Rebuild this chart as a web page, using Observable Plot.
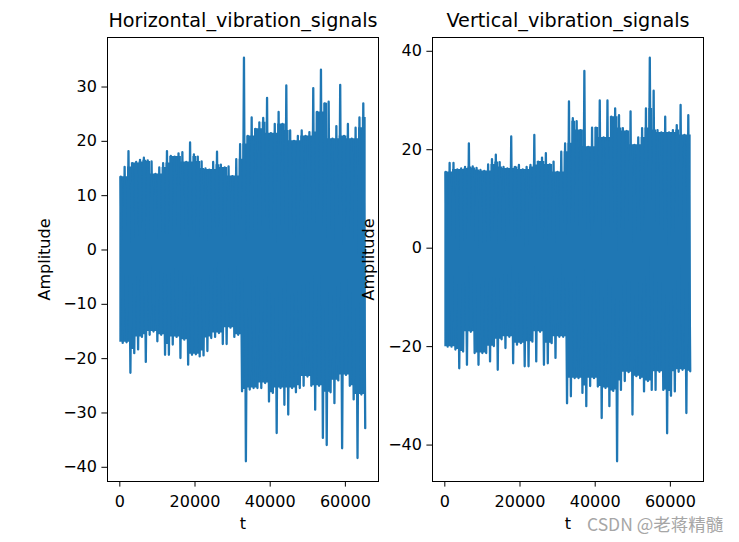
<!DOCTYPE html>
<html>
<head>
<meta charset="utf-8">
<script src="https://cdn.jsdelivr.net/npm/d3@7"></script>
<script src="https://cdn.jsdelivr.net/npm/@observablehq/plot@0.6"></script>
<style>
  body { margin: 0; background: #fff; }
  #wrap { position: relative; width: 739px; height: 542px; overflow: hidden; font-family: "DejaVu Sans", sans-serif; }
  #wrap svg { position: absolute; left: 0; top: 0; }
  #wm { position: absolute; left: 587px; top: 511px; font-family: "Noto Sans CJK SC", "DejaVu Sans", sans-serif; font-size: 17.5px; color: #a6a6a6; white-space: nowrap; }
</style>
</head>
<body>
<div id="wrap"></div>
<script>
// Each bin spans 1024 samples of the 65536-sample signal; values = per-bin max / min
const binSize = 1024;
const titles = ["Horizontal_vibration_signals", "Vertical_vibration_signals"];
const yLabel = "Amplitude";
const xLabel = "t";
const watermark = "CSDN @老蒋精髓";

const hUpper = [13.5, 15.3, 18.2, 16, 16.2, 16.6, 17, 16.5, 16.3, 14, 15.2, 16, 18.2, 17.3, 17.2, 17.8,
  18, 16.2, 19.8, 17.6, 17.2, 16.3, 15, 14.8, 16.2, 18.1, 15.7, 15.2, 15.4, 13.6, 16.7, 19.5,
  35.4, 21, 24.4, 22.3, 23.5, 24.3, 28, 21.5, 23.2, 25.4, 23.2, 30.3, 22, 20.1, 21, 22,
  21, 21.7, 29.8, 25.4, 33.2, 27, 27.3, 20.5, 22.8, 30.4, 21, 23.2, 20.5, 22.5, 24.4, 27];
const hLower = [-17.1, -17, -22.6, -19, -18.3, -16, -20.6, -15.6, -15, -16.8, -15.6, -19.3, -19.3, -17.4, -16, -19.9,
  -16.5, -21.1, -19.3, -19.2, -19.6, -19.4, -18.6, -16.2, -16, -15.3, -17.3, -17.3, -14.3, -16, -15.6, -26,
  -38.9, -25.7, -25.4, -25.4, -25.4, -24.5, -27.9, -26.3, -33.7, -25.4, -28.5, -30.3, -25.4, -26.2, -25.4, -25,
  -23.3, -25, -29.4, -25, -34.6, -35.9, -26.2, -28.2, -24, -36.5, -23, -25, -27.5, -38.3, -26.6, -32.8];
const vUpper = [15.5, 17.3, 17.3, 16, 16.2, 16.5, 21.3, 16.6, 16.3, 15.9, 15.7, 17, 18.1, 19, 17.5, 16.5,
  16.2, 22.7, 16.5, 16.9, 16, 16.5, 16.9, 23, 17.6, 18.4, 19.3, 17, 17.6, 15.5, 19.6, 21.3,
  29.8, 26.4, 25.8, 24, 36, 20.6, 24.5, 24.5, 30, 22.5, 30, 26.7, 28.4, 27, 24.4, 23.8,
  27.8, 21, 22.5, 24.4, 28.4, 38.7, 32, 24, 23.5, 26.7, 23.5, 24, 25, 29.1, 23, 27];
const vLower = [-20, -20, -20.6, -24.4, -21, -23.7, -17, -21.3, -23.7, -21.3, -21.3, -23, -19.9, -24.7, -18.5, -20.3,
  -18, -23.4, -19.6, -19.3, -24, -24, -19, -23, -17, -23.7, -23.4, -19.3, -22.3, -18, -18, -31.5,
  -30.1, -26.4, -26.4, -29.4, -32.1, -28, -26.4, -28.1, -34.5, -28.4, -32.1, -29, -43.3, -28.8, -27, -25.2,
  -33.8, -26, -26.4, -29.1, -27, -28.8, -28.8, -25.1, -28.8, -37.6, -30, -29.1, -25.1, -24.7, -33.5, -25];

const xTicks = [0, 20000, 40000, 60000];
const hYTicks = [-40, -30, -20, -10, 0, 10, 20, 30];
const vYTicks = [-40, -20, 0, 20, 40];

const fmt = d => d < 0 ? "\u2212" + Math.abs(d) : String(d);

function panel({title, upper, lower, yTicks, marginLeft, marginRight, labelDx}) {
  const n = upper.length;
  const tMax = n * binSize - 1;
  // dense body of the trace: the envelope shared with neighbouring bins; the isolated peaks come from the line
  const body = upper.map((u, i) => ({
    t: i * binSize,
    hi: Math.min(u, upper[Math.max(0, i - 1)], upper[Math.min(n - 1, i + 1)]),
    lo: Math.max(lower[i], lower[Math.max(0, i - 1)], lower[Math.min(n - 1, i + 1)])
  }));
  body.push({t: tMax, hi: body[n - 1].hi, lo: body[n - 1].lo});
  const signal = [];
  upper.forEach((u, i) => {
    signal.push({t: i * binSize + binSize / 4, v: u});
    signal.push({t: i * binSize + 3 * binSize / 4, v: lower[i]});
  });
  const yMax = d3.max(upper), yMin = d3.min(lower);
  const xPad = 0.05 * tMax, yPad = 0.05 * (yMax - yMin);
  return Plot.plot({
    width: 739, height: 542,
    marginLeft, marginRight, marginTop: 37, marginBottom: 61,
    style: {background: "transparent", fontFamily: "DejaVu Sans", fontSize: "16px", color: "#000", overflow: "visible"},
    x: {domain: [-xPad, tMax + xPad]},
    y: {domain: [yMin - yPad, yMax + yPad]},
    marks: [
      Plot.areaY(body, {x: "t", y1: "lo", y2: "hi", curve: "step-after", fill: "#1f77b4"}),
      Plot.line(signal, {x: "t", y: "v", stroke: "#1f77b4", strokeWidth: 2.3, strokeLinejoin: "round"}),
      Plot.frame({stroke: "#000", strokeWidth: 1}),
      Plot.axisX(xTicks, {tickSize: 5.6, tickPadding: 8.4, strokeWidth: 1, tickFormat: fmt, label: null, fontSize: 16}),
      Plot.axisY(yTicks, {tickSize: 5.6, tickPadding: 5, strokeWidth: 1, tickFormat: fmt, label: null, fontSize: 16}),
      Plot.text([title], {text: d => d, frameAnchor: "top", textAnchor: "middle", lineAnchor: "bottom", dy: -10.3, fontSize: 19.2}),
      Plot.text([yLabel], {text: d => d, frameAnchor: "left", textAnchor: "middle", lineAnchor: "middle", rotate: -90, dx: labelDx, fontSize: 16}),
      Plot.text([xLabel], {text: d => d, frameAnchor: "bottom", textAnchor: "middle", lineAnchor: "bottom", dy: 47, fontSize: 16})
    ]
  });
}

const wrap = document.getElementById("wrap");
wrap.appendChild(panel({title: titles[0], upper: hUpper, lower: hLower, yTicks: hYTicks, marginLeft: 107, marginRight: 739 - 378, labelDx: -63}));
wrap.appendChild(panel({title: titles[1], upper: vUpper, lower: vLower, yTicks: vYTicks, marginLeft: 432, marginRight: 739 - 703, labelDx: -64}));
const wm = document.createElement("div");
wm.id = "wm";
wm.textContent = watermark;
wrap.appendChild(wm);
</script>
</body>
</html>
